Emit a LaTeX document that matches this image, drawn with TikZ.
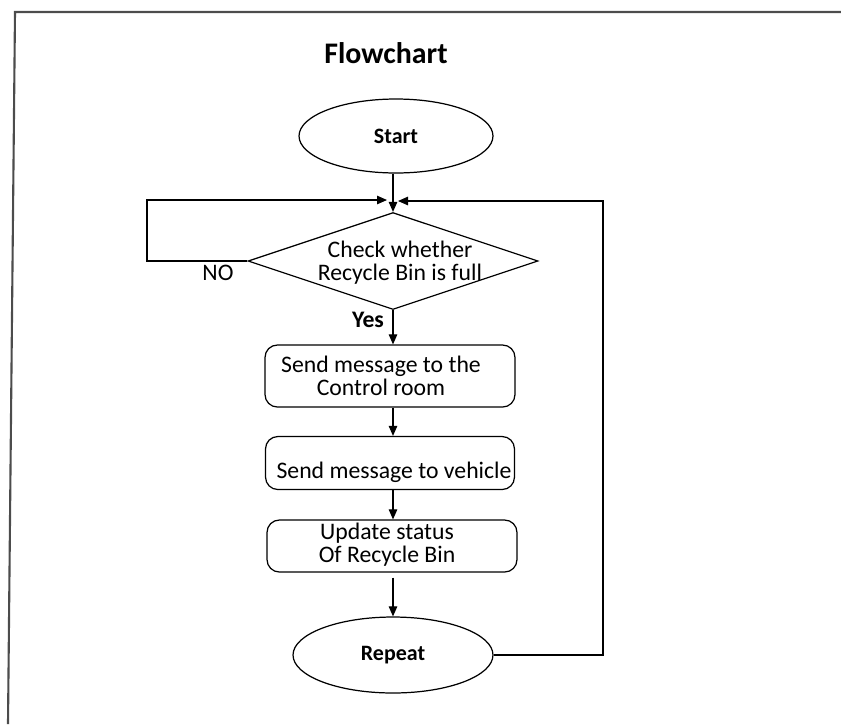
\documentclass[tikz,border=0pt]{standalone}
\usepackage{fontspec}
\setmainfont{Carlito}
\usepackage{tikz}
\usetikzlibrary{calc,arrows.meta,shapes.geometric}
\tikzset{
    txt/.style={font=\fontsize{13.5}{13}\selectfont, align=center, inner sep=0pt},
    terminal/.style={draw, ellipse, inner sep=0pt, font=\fontsize{12.5}{15}\selectfont\bfseries},
    decision/.style={draw, diamond, inner sep=0pt},
    process/.style={draw, rounded corners=7pt, inner sep=0pt},
    flow/.style={-{Triangle[length=2mm,width=1.7mm]}, semithick}
}
\begin{document}
\begin{tikzpicture}[x=0.02cm, y=-0.02cm, line width=0.7pt]
    \useasboundingbox (0,0) rectangle (841,724);
    \coordinate (T1) at (15,12);  \coordinate (T2) at (841,12); \coordinate (L2) at (8,724);
    \coordinate (nw) at (147,200); \coordinate (inL) at (387,200);
    \coordinate (ne) at (603,201); \coordinate (inR) at (398,201);
    \draw[gray!60!black, line width=1.2pt] (L2) -- (T1) -- (T2);
    \node[font=\fontsize{17}{20}\selectfont\bfseries] (title) at (386,53) {Flowchart};
    \node[terminal, minimum width=3.88cm, minimum height=1.48cm] (start) at (396,136) {Start};
    \node[decision, minimum width=5.8cm, minimum height=1.94cm] (check) at (393,261) {};
    \node[txt] (checktxt) at (400,263) {Check whether\\Recycle Bin is full};
    \node[process, minimum width=5cm, minimum height=1.24cm] (ctrl) at (390,376) {};
    \node[txt] (ctrltxt) at (381,376) {Send message to the\\Control room};
    \node[process, minimum width=4.98cm, minimum height=1.06cm] (veh) at (390,463) {};
    \node[txt] (vehtxt) at (394,472) {Send message to vehicle};
    \node[process, minimum width=5cm, minimum height=1.04cm] (upd) at (392,546) {};
    \node[txt] (updtxt) at (387,545) {Update status\\Of Recycle Bin};
    \node[terminal, minimum width=4cm, minimum height=1.52cm] (rep) at (393,655) {Repeat};
    \node[txt] (no) at (218,273) {NO};
    \node[txt, font=\fontsize{13.5}{13}\selectfont\bfseries] (yes) at (368,320) {Yes};
    \draw[flow] (start.south -| check.north) -- (check.north);
    \draw[flow] (check.south) -- (ctrl.north -| check.south);
    \draw[flow] (ctrl.south -| check.south) -- (veh.north -| check.south);
    \draw[flow] (veh.south -| check.south) -- (upd.north -| check.south);
    \draw[flow] ($(upd.south -| check.south)+(0,5)$) -- (rep.north -| check.south);
    \draw[flow] (check.west) -| (nw) -- (inL);
    \draw[flow] (rep.east) -| (ne) -- (inR);
\end{tikzpicture}
\end{document}
